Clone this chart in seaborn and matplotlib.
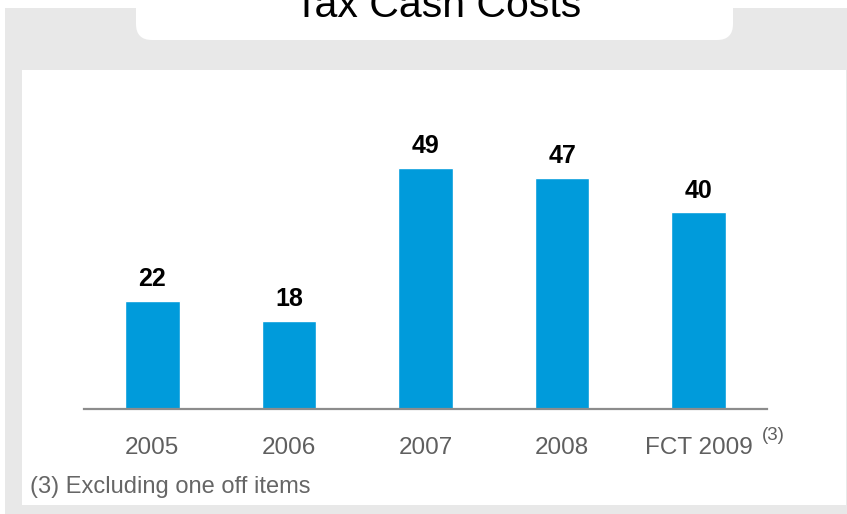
import matplotlib
matplotlib.use("Agg")
import matplotlib.pyplot as plt
import seaborn as sns
import pandas as pd
from matplotlib.patches import Rectangle, FancyBboxPatch

# Chart data
years = ["2005", "2006", "2007", "2008", "FCT 2009"]
tax_cash_costs = [22, 18, 49, 47, 40]
title = "Tax Cash Costs"
note_mark = "(3)"
footnote = "(3) Excluding one off items"

BAR_COLOR = "#009BDB"
GREY_BG = "#e8e8e8"
AXIS_GREY = "#8c8c8c"
LABEL_GREY = "#5f5f5f"

sns.set_theme(style="white")
plt.rcParams["font.family"] = ["Liberation Sans", "DejaVu Sans"]

W, H = 847, 514
fig = plt.figure(figsize=(W / 100, H / 100), dpi=100)
fig.patch.set_facecolor("white")

# Background layer laid out in pixel units (origin top-left)
bg = fig.add_axes([0, 0, 1, 1], zorder=0)
bg.set_xlim(0, W)
bg.set_ylim(H, 0)
bg.axis("off")
bg.add_patch(Rectangle((5, 8), W - 5, H - 8, facecolor=GREY_BG, edgecolor="none"))
bg.add_patch(Rectangle((22, 70), W - 22 - 1, 505 - 70, facecolor="white", edgecolor="none"))
bg.add_patch(FancyBboxPatch((136, -40), 733 - 136, 80,
                            boxstyle="round,pad=0,rounding_size=16",
                            facecolor="white", edgecolor="none"))
bg.text(438, 17, title, ha="center", va="baseline", fontsize=29.5, color="black")

# Bar chart
df = pd.DataFrame({"year": years, "cost": tax_cash_costs})
ax = fig.add_axes([84 / W, 105 / H, 683 / W, 295 / H], zorder=1)
ax.patch.set_alpha(0)
sns.barplot(data=df, x="year", y="cost", color=BAR_COLOR, saturation=1,
            width=0.4, ax=ax)
ax.set_xlim(-0.5, len(years) - 0.5)
ax.set_ylim(0, 60)
ax.set_xlabel("")
ax.set_ylabel("")
ax.set_yticks([])
for side in ("left", "right", "top"):
    ax.spines[side].set_visible(False)
ax.spines["bottom"].set_color(AXIS_GREY)
ax.spines["bottom"].set_linewidth(1.6)
ax.tick_params(axis="x", length=0, pad=20, labelsize=17.5, labelcolor=LABEL_GREY)

ax.bar_label(ax.containers[0], fmt="%d", padding=7, fontsize=18,
             fontweight="bold", color="black")

# Footnote marker beside the last category label
ax.annotate(note_mark, xy=(len(years) - 1, 0), xycoords=("data", "axes fraction"),
            xytext=(75, -26), textcoords="offset pixels",
            ha="center", va="center", fontsize=13.5, color=LABEL_GREY)

fig.text(30 / W, 1 - 493 / H, footnote, ha="left", va="baseline",
         fontsize=17, color="#666666")

fig.savefig("out.png", dpi=100, facecolor=fig.get_facecolor())
